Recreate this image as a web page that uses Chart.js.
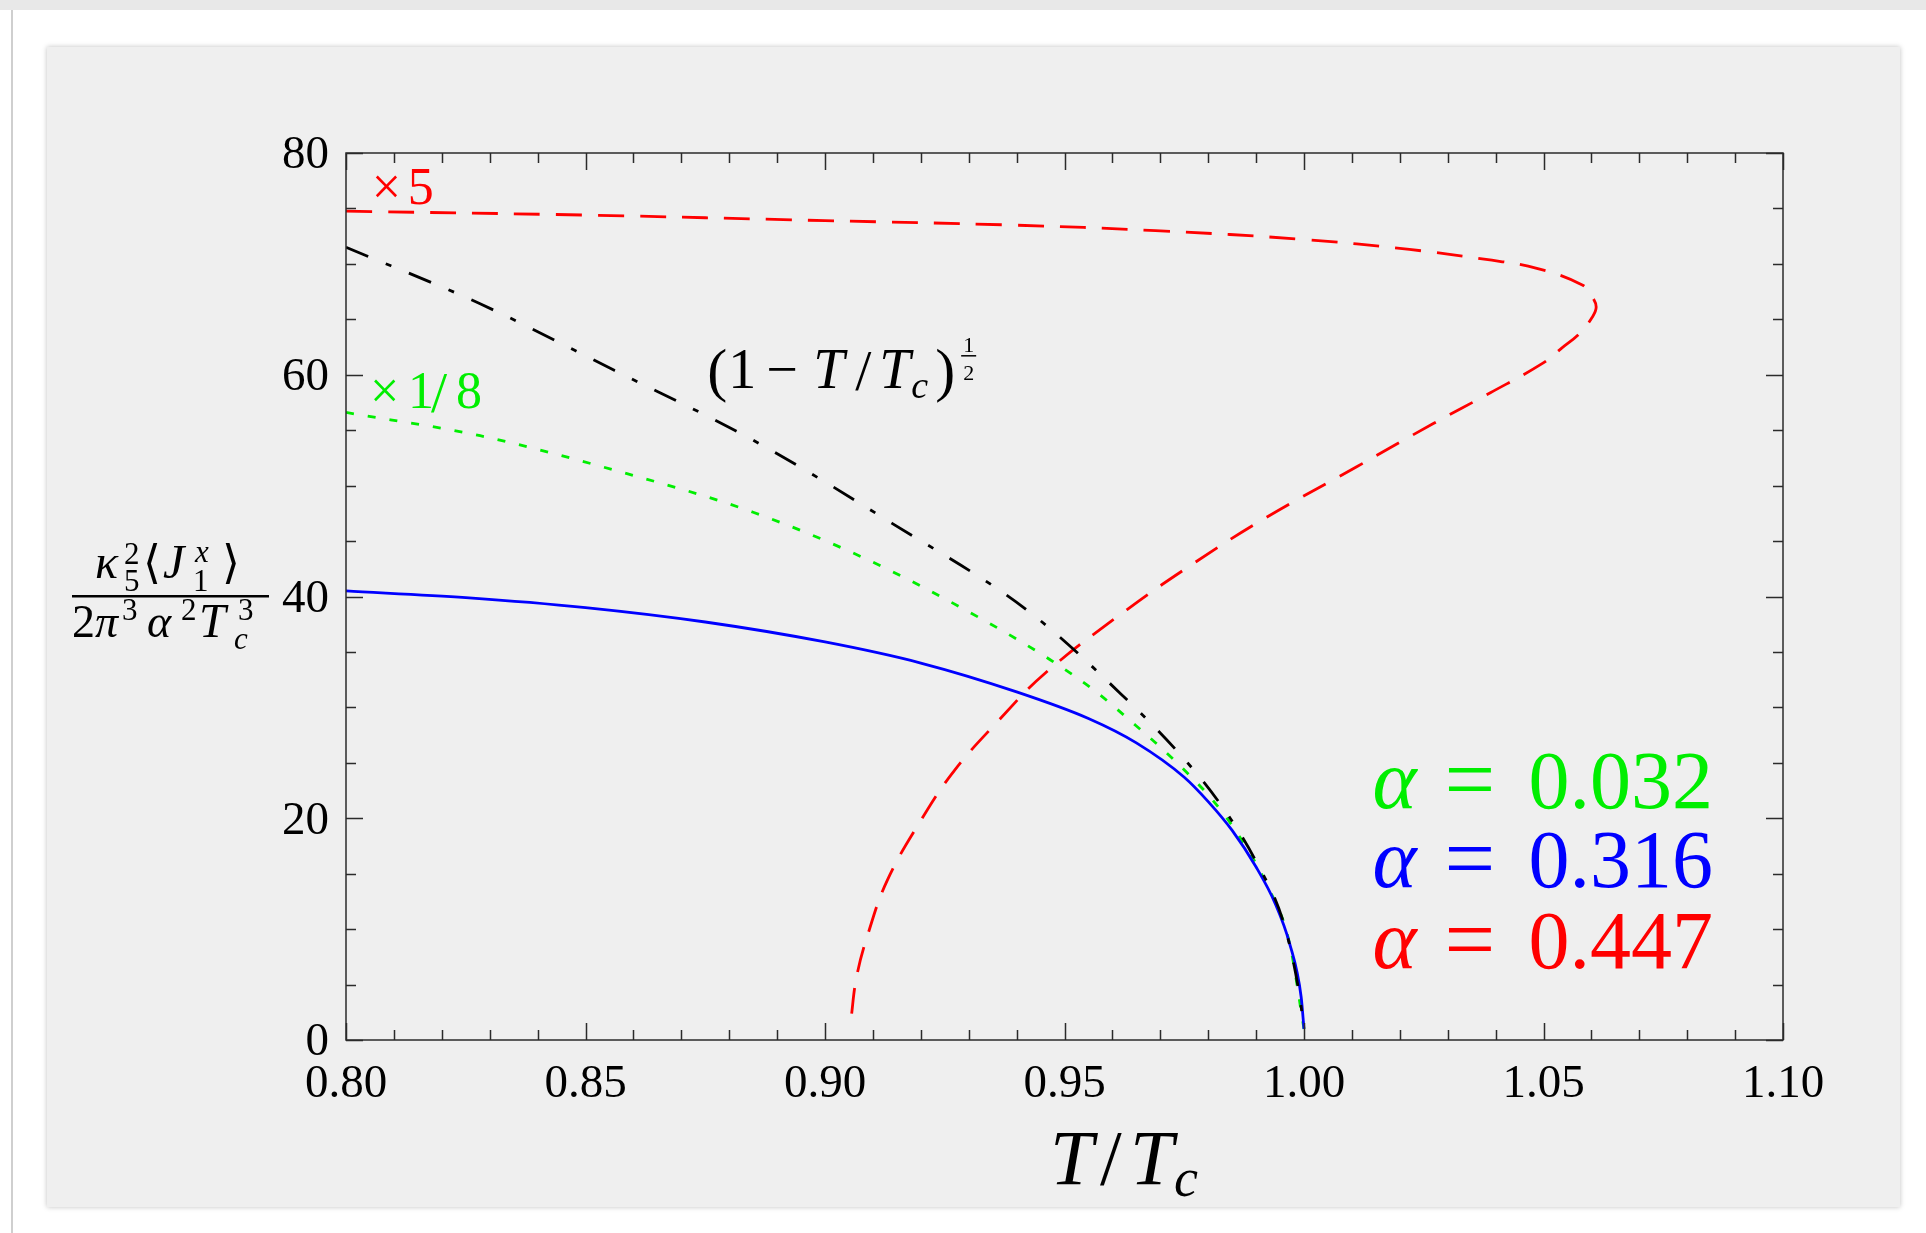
<!DOCTYPE html>
<html>
<head>
<meta charset="utf-8">
<script src="https://cdn.jsdelivr.net/npm/chart.js@4.4.0/dist/chart.umd.min.js"></script>
<style>
html, body { margin: 0; padding: 0; background: #fff; width: 1926px; height: 1233px; overflow: hidden; }
#strip { position: absolute; left: 0; top: 0; width: 1926px; height: 10px; background: #e8e8e8; }
#edge { position: absolute; left: 11px; top: 10px; width: 2px; height: 1223px; background: #cfcfcf; }
#card { position: absolute; left: 47px; top: 47px; width: 1853px; height: 1160px; background: #efefef; box-shadow: 0 0 5px rgba(0,0,0,0.25); }
#chart { position: absolute; left: 0; top: 0; }
</style>
</head>
<body>
<div id="strip"></div>
<div id="edge"></div>
<div id="card"></div>
<canvas id="chart" width="1926" height="1233"></canvas>
<script>
// tick labels
const xTicks = [0.80, 0.85, 0.90, 0.95, 1.00, 1.05, 1.10];
const yTicks = [0, 20, 40, 60, 80];

// alpha = 0.316 (solid blue)
const blueT = [0.800, 0.825, 0.850, 0.875, 0.900, 0.920, 0.940, 0.955, 0.965, 0.975, 0.980, 0.985, 0.990, 0.994, 0.997, 0.9994, 1.000];
const blueY = [40.5, 39.9, 39.0, 37.7, 35.9, 34.0, 31.4, 29.0, 26.8, 23.7, 21.5, 18.9, 15.6, 12.3, 8.7, 3.9, 1.0];

// alpha = 0.032, x1/8 (green dotted)
const greenT = [0.800, 0.828, 0.856, 0.885, 0.909, 0.933, 0.947, 0.956, 0.964, 0.973, 0.981, 0.986, 0.992, 0.997, 1.000];
const greenY = [56.6, 54.5, 51.4, 47.6, 43.3, 37.9, 34.3, 31.6, 28.7, 25.2, 21.6, 18.7, 14.2, 8.7, 1.0];

// (1 - T/Tc)^(1/2) (black dash-dot)
const blackT = [0.800, 0.828, 0.856, 0.885, 0.914, 0.943, 0.963, 0.973, 0.982, 0.990, 0.996, 0.999, 1.000];
const blackY = [71.5, 66.4, 60.4, 54.1, 46.6, 38.5, 30.7, 26.3, 21.6, 16.1, 10.2, 4.2, 1.0];

// alpha = 0.447, x5 (red dashed, folds back)
const redT = [0.800, 0.850, 0.900, 0.939, 0.969, 1.000, 1.022, 1.038, 1.0486, 1.0581, 1.0602, 1.0610, 1.0602, 1.0576, 1.0538, 1.0497, 1.039, 1.027, 1.011, 0.992, 0.977, 0.963, 0.946, 0.936, 0.927, 0.920, 0.913, 0.909, 0.9066, 0.9054];
const redY = [74.75, 74.4, 73.9, 73.5, 73.0, 72.2, 71.3, 70.4, 69.6, 68.1, 67.0, 66.1, 65.2, 63.75, 62.4, 61.0, 58.4, 55.6, 51.7, 47.1, 43.0, 38.8, 33.1, 28.7, 24.3, 19.8, 14.4, 9.6, 5.7, 1.8];

const toPoints = (xs, ys) => xs.map((x, i) => ({ x: x, y: ys[i] }));

const serif = "'Liberation Serif', 'Times New Roman', serif";

function drawRuns(ctx, x0, y0, runs, color) {
    ctx.fillStyle = color;
    ctx.textBaseline = 'alphabetic';
    ctx.textAlign = 'left';
    runs.forEach(r => {
        ctx.font = (r.it ? 'italic ' : '') + r.size + 'px ' + serif;
        ctx.fillText(r.t, x0 + r.x, y0 + (r.dy || 0));
    });
}

// inward ticks on all four sides + box frame
const frameTicks = {
    id: 'frameTicks',
    afterDatasetsDraw(chart) {
        const { ctx, chartArea: a, scales: { x, y } } = chart;
        ctx.save();
        ctx.strokeStyle = '#2b2b2b';
        ctx.lineWidth = 1.5;
        ctx.beginPath();
        for (let i = 0; i <= 30; i++) {
            const v = 0.8 + i * 0.01;
            const px = Math.round(x.getPixelForValue(v)) + 0.5;
            const len = (i % 5 === 0) ? 17 : 10;
            ctx.moveTo(px, a.bottom); ctx.lineTo(px, a.bottom - len);
            ctx.moveTo(px, a.top); ctx.lineTo(px, a.top + len);
        }
        for (let v = 0; v <= 80; v += 5) {
            const py = Math.round(y.getPixelForValue(v)) + 0.5;
            const len = yTicks.includes(v) ? 17 : 10;
            ctx.moveTo(a.left, py); ctx.lineTo(a.left + len, py);
            ctx.moveTo(a.right, py); ctx.lineTo(a.right - len, py);
        }
        ctx.stroke();
        ctx.strokeRect(a.left, a.top, a.right - a.left, a.bottom - a.top);
        ctx.restore();
    }
};

const texts = {
    id: 'texts',
    afterDraw(chart) {
        const { ctx, scales: { x, y } } = chart;
        ctx.save();

        // y axis label (fraction)
        drawRuns(ctx, 0, 578, [
            { t: 'κ', x: 95, size: 48, it: true },
            { t: '2', x: 124, size: 31, dy: -14 },
            { t: '5', x: 124, size: 31, dy: 13 },
            { t: '⟨', x: 143, size: 46 },
            { t: 'J', x: 163, size: 48, it: true },
            { t: 'x', x: 195, size: 31, it: true, dy: -16 },
            { t: '1', x: 193, size: 31, dy: 13 },
            { t: '⟩', x: 222, size: 46 }
        ], '#000');
        ctx.fillRect(72, 595, 197, 2.5);
        drawRuns(ctx, 0, 637, [
            { t: '2', x: 72, size: 46 },
            { t: 'π', x: 95, size: 46, it: true },
            { t: '3', x: 122, size: 31, dy: -17 },
            { t: 'α', x: 147, size: 46, it: true },
            { t: '2', x: 181, size: 31, dy: -17 },
            { t: 'T', x: 199, size: 48, it: true },
            { t: '3', x: 238, size: 31, dy: -17 },
            { t: 'c', x: 234, size: 31, it: true, dy: 12 }
        ], '#000');

        // x axis title
        drawRuns(ctx, 1050, 1184, [
            { t: 'T', x: 0, size: 78, it: true },
            { t: '/', x: 50, size: 78 },
            { t: 'T', x: 80, size: 78, it: true },
            { t: 'c', x: 124, size: 54, it: true, dy: 12 }
        ], '#000');

        // curve annotations
        drawRuns(ctx, x.getPixelForValue(0.8054), y.getPixelForValue(75.4), [
            { t: '×', x: 0, size: 52 },
            { t: '5', x: 36, size: 52 }
        ], '#ff0000');
        drawRuns(ctx, x.getPixelForValue(0.805), y.getPixelForValue(57.0), [
            { t: '×', x: 0, size: 52 },
            { t: '1', x: 38, size: 52 },
            { t: '/', x: 61, size: 58, dy: 4 },
            { t: '8', x: 86, size: 52 }
        ], '#00ee00');
        const fx = x.getPixelForValue(0.8754), fy = y.getPixelForValue(58.8);
        drawRuns(ctx, fx, fy, [
            { t: '(', x: 0, size: 60, dy: 2 },
            { t: '1', x: 21, size: 56 },
            { t: '−', x: 59, size: 56 },
            { t: 'T', x: 106, size: 56, it: true },
            { t: '/', x: 148, size: 58, dy: 2 },
            { t: 'T', x: 172, size: 56, it: true },
            { t: 'c', x: 204, size: 38, it: true, dy: 10 },
            { t: ')', x: 228, size: 60, dy: 2 },
            { t: '1', x: 256, size: 22, dy: -36 },
            { t: '2', x: 256, size: 22, dy: -8 }
        ], '#000');
        ctx.fillRect(fx + 254, fy - 33, 15, 1.5);

        // legend
        const legend = [
            ['0.032', 20.9, '#00ee00'],
            ['0.316', 13.8, '#0000ff'],
            ['0.447', 6.5, '#ff0000']
        ];
        legend.forEach(([val, yv, col]) => {
            drawRuns(ctx, x.getPixelForValue(1.0143), y.getPixelForValue(yv), [
                { t: 'α', x: 0, size: 84, it: true },
                { t: '=', x: 72, size: 90, dy: 2 },
                { t: val, x: 156, size: 82 }
            ], col);
        });

        ctx.restore();
    }
};

new Chart(document.getElementById('chart'), {
    type: 'line',
    data: {
        datasets: [
            { label: '(1 - T/Tc)^1/2', data: toPoints(blackT, blackY), borderColor: '#000000', borderDash: [24, 19, 6, 19], borderWidth: 2.8, cubicInterpolationMode: 'monotone' },
            { label: 'α = 0.316', data: toPoints(blueT, blueY), borderColor: '#0000ff', borderWidth: 2.8, cubicInterpolationMode: 'monotone' },
            { label: 'α = 0.032', data: toPoints(greenT, greenY), borderColor: '#00ee00', borderDash: [8, 14], borderWidth: 2.8, cubicInterpolationMode: 'monotone' },
            { label: 'α = 0.447', data: toPoints(redT, redY), borderColor: '#ff0000', borderDash: [26, 16], borderWidth: 2.8, tension: 0.4 }
        ]
    },
    options: {
        responsive: false,
        animation: false,
        devicePixelRatio: 1,
        layout: { padding: { left: 0, top: 153, right: 143, bottom: 0 } },
        elements: { point: { radius: 0 }, line: { fill: false } },
        plugins: { legend: { display: false }, tooltip: { enabled: false } },
        scales: {
            x: {
                type: 'linear', min: 0.8, max: 1.1,
                grid: { display: false, drawTicks: false },
                border: { display: false },
                afterBuildTicks: s => { s.ticks = xTicks.map(v => ({ value: v })); },
                afterFit: s => { s.height = 193; },
                ticks: {
                    autoSkip: false, maxRotation: 0, padding: 16, color: '#000',
                    font: { family: serif, size: 47 },
                    callback: v => Number(v).toFixed(2)
                }
            },
            y: {
                type: 'linear', min: 0, max: 80,
                grid: { display: false, drawTicks: false },
                border: { display: false },
                afterBuildTicks: s => { s.ticks = yTicks.map(v => ({ value: v })); },
                afterFit: s => { s.width = 346; },
                ticks: {
                    padding: 17, color: '#000', labelOffset: 3,
                    font: { family: serif, size: 47 },
                    callback: v => String(v)
                }
            }
        }
    },
    plugins: [frameTicks, texts]
});
</script>
</body>
</html>
